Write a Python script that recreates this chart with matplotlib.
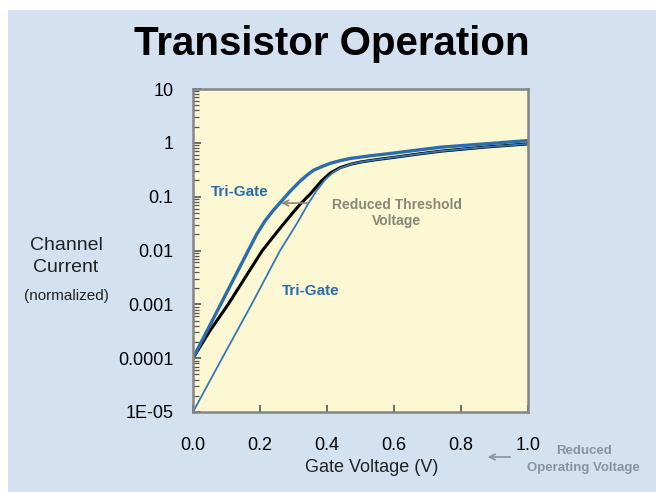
import matplotlib
matplotlib.use("Agg")
import matplotlib.pyplot as plt
from matplotlib.patches import Rectangle, FancyArrowPatch
from matplotlib.ticker import LogLocator, NullFormatter, FixedLocator, FixedFormatter

# Tri-Gate (steeper, lower threshold) curve
v_trigate = [0.0, 0.08, 0.165, 0.19, 0.215, 0.24, 0.266, 0.29, 0.32, 0.34, 0.36,
             0.385, 0.41, 0.44, 0.47, 0.53, 0.6, 0.67, 0.74, 0.87, 1.0]
i_trigate = [1e-4, 9.3e-4, 0.01, 0.02, 0.0355, 0.056, 0.085, 0.126, 0.195, 0.25, 0.31,
             0.363, 0.417, 0.468, 0.513, 0.575, 0.646, 0.733, 0.83, 0.955, 1.1]

# Planar transistor curve
v_planar = [0.0, 0.05, 0.105, 0.207, 0.26, 0.3, 0.323, 0.35, 0.385, 0.41, 0.44,
            0.47, 0.5, 0.55, 0.6, 0.67, 0.74, 0.87, 1.0]
i_planar = [1e-4, 3.2e-4, 1e-3, 0.01, 0.026, 0.052, 0.076, 0.112, 0.2, 0.275, 0.347,
            0.4, 0.44, 0.49, 0.537, 0.617, 0.7, 0.832, 0.955]

# Tri-Gate curve at reduced leakage
v_lowleak = [0.0, 0.087, 0.175, 0.26, 0.28, 0.31, 0.345, 0.37, 0.395, 0.42, 0.44,
             0.47, 0.5, 0.55, 0.6, 0.67, 0.74, 0.87, 1.0]
i_lowleak = [1e-5, 1e-4, 1e-3, 0.01, 0.0158, 0.0316, 0.076, 0.132, 0.209, 0.288, 0.339,
             0.4, 0.44, 0.49, 0.537, 0.617, 0.7, 0.832, 0.955]

x_ticks = [0.0, 0.2, 0.4, 0.6, 0.8, 1.0]
x_tick_labels = ["0.0", "0.2", "0.4", "0.6", "0.8", "1.0"]
y_ticks = [1e-5, 1e-4, 1e-3, 1e-2, 1e-1, 1, 10]
y_tick_labels = ["1E-05", "0.0001", "0.001", "0.01", "0.1", "1", "10"]

plt.rcParams["font.family"] = ["Liberation Sans", "DejaVu Sans"]

BG = "#d4e1f1"
FACE = "#fbf8d3"
BLUE = "#2b6cad"
BLUE_THIN = "#3579b5"
GRAY = "#88877a"
GRAY_BLUE = "#8893a2"
TICK = "#555555"
W, H = 656, 492

fig = plt.figure(figsize=(W / 100, H / 100), dpi=100)
fig.patch.set_facecolor("white")
fig.patches.append(Rectangle((8 / W, 0), 1 - 8 / W, 1 - 10 / H,
                             transform=fig.transFigure, facecolor=BG,
                             edgecolor="none", zorder=-10))

ax = fig.add_axes([193 / W, 1 - 412 / H, 335 / W, 323 / H])
ax.set_facecolor(FACE)

ax.plot(v_planar, i_planar, color="black", lw=2.2, solid_joinstyle="round", zorder=3)
ax.plot(v_lowleak, i_lowleak, color=BLUE_THIN, lw=1.3, solid_joinstyle="round", zorder=4)
ax.plot(v_trigate, i_trigate, color=BLUE, lw=2.4, solid_joinstyle="round", zorder=5)

ax.set_yscale("log")
ax.set_xlim(0, 1.0)
ax.set_ylim(1e-5, 10)

ax.xaxis.set_major_locator(FixedLocator(x_ticks))
ax.xaxis.set_major_formatter(FixedFormatter(x_tick_labels))
ax.yaxis.set_major_locator(FixedLocator(y_ticks))
ax.yaxis.set_major_formatter(FixedFormatter(y_tick_labels))
ax.yaxis.set_minor_locator(LogLocator(base=10, subs=tuple(range(2, 10)), numticks=30))
ax.yaxis.set_minor_formatter(NullFormatter())

ax.tick_params(axis="x", which="both", direction="in", length=5, width=1.2,
               color=TICK, labelsize=13, pad=18, top=False, bottom=True)
ax.tick_params(axis="y", which="major", direction="in", length=6, width=1.2,
               color=TICK, labelsize=13, pad=14, right=False, left=True)
ax.tick_params(axis="y", which="minor", direction="in", length=4, width=0.9,
               color=TICK, right=False, left=True)
for s in ax.spines.values():
    s.set_color("#858585")
    s.set_linewidth(1.8)
    s.set_zorder(6)

# Axis titles
fig.text(372 / W, 1 - 467 / H, "Gate Voltage (V)", fontsize=13,
         ha="center", va="center", color="#222222")
fig.text(66 / W, 1 - 245 / H, "Channel", fontsize=14, ha="center",
         va="center", color="#222222")
fig.text(66 / W, 1 - 268 / H, "Current", fontsize=14, ha="center",
         va="center", color="#222222")
fig.text(66 / W, 1 - 296 / H, "(normalized)", fontsize=11, ha="center",
         va="center", color="#222222")

# Title
fig.text(332 / W, 1 - 55 / H, "Transistor Operation", fontsize=29,
         fontweight="bold", ha="center", va="baseline", color="black")

# Annotations inside the plot
ax.text(0.14, 0.12, "Tri-Gate", fontsize=11, fontweight="bold", color=BLUE,
        ha="center", va="center")
ax.text(0.35, 0.0018, "Tri-Gate", fontsize=11, fontweight="bold", color=BLUE,
        ha="center", va="center")
ax.text(0.608, 0.05, "Reduced Threshold\nVoltage", fontsize=10, fontweight="bold",
        color=GRAY, ha="center", va="center", linespacing=1.2)
ax.annotate("", xy=(0.255, 0.076), xytext=(0.35, 0.076),
            arrowprops=dict(arrowstyle="->", color=GRAY, lw=1.2), zorder=6)

# Note below the plot
fig.text(584 / W, 1 - 451 / H, "Reduced", fontsize=9.5, fontweight="bold",
         color=GRAY_BLUE, ha="center", va="center")
fig.text(583 / W, 1 - 468 / H, "Operating Voltage", fontsize=9.5, fontweight="bold",
         color=GRAY_BLUE, ha="center", va="center")
fig.patches.append(FancyArrowPatch(
    (513 / W, 1 - 457 / H), (485 / W, 1 - 457 / H),
    transform=fig.transFigure, arrowstyle="->", color=GRAY_BLUE, lw=1.2,
    mutation_scale=10))

fig.savefig("out.png", dpi=100, facecolor=fig.get_facecolor())
